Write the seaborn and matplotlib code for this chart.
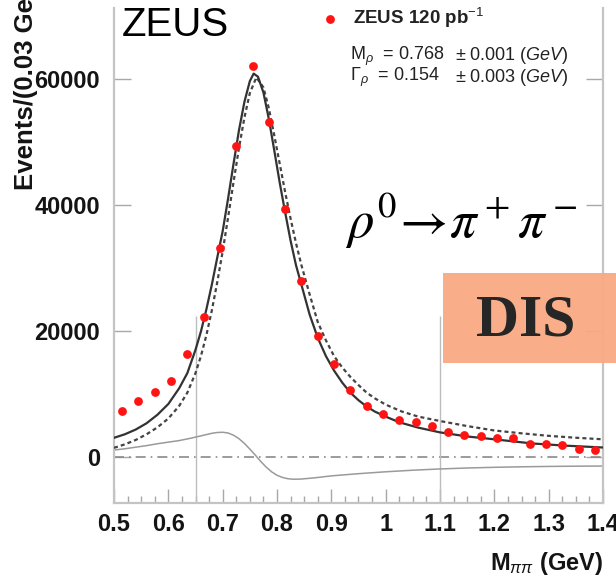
import matplotlib
matplotlib.use("Agg")
import matplotlib.pyplot as plt
import matplotlib.patches as mpatches
from matplotlib.ticker import MultipleLocator
import pandas as pd
import seaborn as sns

# ZEUS data points (bin centres, events per 0.03 GeV)
mass_bins = [0.515, 0.545, 0.575, 0.605, 0.635, 0.665, 0.695, 0.725, 0.755, 0.785,
             0.815, 0.845, 0.875, 0.905, 0.935, 0.965, 0.995, 1.025, 1.055, 1.085,
             1.115, 1.145, 1.175, 1.205, 1.235, 1.265, 1.295, 1.325, 1.355, 1.385]
events = [7250, 8940, 10250, 12100, 16370, 22270, 33140, 49390, 61930, 53080,
          39270, 27880, 19110, 14740, 10680, 8150, 6830, 5930, 5570, 4980,
          4030, 3510, 3400, 3040, 2970, 2090, 2090, 1820, 1300, 1080]

# full fit (solid)
fit_x = [0.50, 0.52, 0.54, 0.56, 0.58, 0.60, 0.62, 0.635, 0.65, 0.66, 0.67, 0.68,
         0.69, 0.70, 0.71, 0.72, 0.73, 0.74, 0.75, 0.757, 0.765, 0.775, 0.785, 0.795,
         0.805, 0.815, 0.825, 0.835, 0.845, 0.86, 0.875, 0.89, 0.905, 0.92, 0.935, 0.95,
         0.965, 0.98, 1.00, 1.025, 1.06, 1.10, 1.15, 1.20, 1.27, 1.33, 1.40]
fit_y = [3040, 3600, 4350, 5350, 6700, 8400, 10900, 13300, 17000, 19900, 23400, 27300,
         31600, 35800, 41000, 46500, 51800, 56300, 59600, 60800, 60300, 57800, 53600, 48600,
         43500, 38800, 34300, 30400, 27300, 22600, 18900, 16000, 13700, 11800, 10200, 9000,
         8000, 7200, 6400, 5500, 4650, 3900, 3250, 2800, 2140, 1800, 1500]

# pure Breit-Wigner (dotted)
bw_x = [0.50, 0.52, 0.54, 0.56, 0.58, 0.60, 0.62, 0.635, 0.65, 0.66, 0.67, 0.68,
        0.69, 0.70, 0.71, 0.72, 0.73, 0.74, 0.75, 0.762, 0.775, 0.785, 0.795, 0.805,
        0.815, 0.825, 0.835, 0.845, 0.86, 0.875, 0.89, 0.905, 0.92, 0.935, 0.95, 0.965,
        0.98, 1.00, 1.03, 1.06, 1.10, 1.15, 1.20, 1.25, 1.30, 1.35, 1.40]
bw_y = [1450, 2000, 2700, 3600, 4700, 6100, 8100, 10200, 13300, 16000, 19300, 23200,
        27700, 32600, 38000, 43600, 49000, 53800, 57700, 60200, 58600, 55300, 51000, 46500,
        42000, 37800, 33900, 30400, 25800, 21400, 18500, 16000, 14200, 12700, 11400, 10200,
        9300, 8300, 7200, 6400, 5700, 4900, 4200, 3750, 3350, 3050, 2800]

# interference term (grey)
int_x = [0.50, 0.52, 0.54, 0.56, 0.58, 0.60, 0.62, 0.64, 0.66, 0.68, 0.69, 0.70,
         0.71, 0.72, 0.73, 0.74, 0.75, 0.76, 0.77, 0.78, 0.79, 0.80, 0.81, 0.82,
         0.83, 0.845, 0.87, 0.90, 0.95, 1.00, 1.05, 1.10, 1.15, 1.20, 1.25, 1.30,
         1.35, 1.40]
int_y = [1100, 1300, 1550, 1800, 2100, 2350, 2600, 2950, 3350, 3750, 3880, 3920,
         3800, 3450, 2900, 2150, 1250, 300, -700, -1600, -2350, -2900, -3250, -3450,
         -3530, -3500, -3300, -3000, -2650, -2350, -2100, -1900, -1750, -1640, -1560, -1500,
         -1460, -1440]

cut_edges = [0.65, 1.1]
cut_top = 22300

xticks = [0.5, 0.6, 0.7, 0.8, 0.9, 1.0, 1.1, 1.2, 1.3, 1.4]
xtick_labels = ["0.5", "0.6", "0.7", "0.8", "0.9", "1", "1.1", "1.2", "1.3", "1.4"]
yticks = [0, 20000, 40000, 60000]

sns.set_style("ticks")
plt.rcParams["font.family"] = ["Liberation Sans", "DejaVu Sans"]
plt.rcParams["font.sans-serif"] = ["Liberation Sans", "DejaVu Sans"]
plt.rcParams["mathtext.fontset"] = "custom"
plt.rcParams["mathtext.rm"] = "sans"
plt.rcParams["mathtext.it"] = "sans:italic"
plt.rcParams["mathtext.bf"] = "sans:bold"

fig = plt.figure(figsize=(6.16, 5.8), dpi=100)
ax = fig.add_axes([114 / 616, 1 - 503 / 580, (603 - 114) / 616, (503 - 8) / 580])

data = pd.DataFrame({"mass": mass_bins, "events": events})
fit = pd.DataFrame({"mass": fit_x, "events": fit_y})
bw = pd.DataFrame({"mass": bw_x, "events": bw_y})
interf = pd.DataFrame({"mass": int_x, "events": int_y})

ax.axhline(0, color="#8a8a8a", lw=1.2, ls=(0, (6, 3, 1, 3)), zorder=1)
ax.vlines(cut_edges, -7300, cut_top, color="#bdbdbd", lw=1.0, zorder=1)

sns.lineplot(data=interf, x="mass", y="events", ax=ax, color="#9a9a9a", lw=1.1,
             estimator=None, zorder=2)
sns.lineplot(data=bw, x="mass", y="events", ax=ax, color="#444444", lw=1.6,
             ls=(0, (1.8, 1.4)), estimator=None, zorder=3)
sns.lineplot(data=fit, x="mass", y="events", ax=ax, color="#333333", lw=1.6,
             estimator=None, zorder=4)
sns.scatterplot(data=data, x="mass", y="events", ax=ax, color="#ff1414", s=40,
                linewidth=0, zorder=5, label=r"ZEUS 120 pb$^{-1}$")

ax.set_xlim(0.5, 1.4)
ax.set_ylim(-7300, 71200)
ax.set_xticks(xticks)
ax.set_xticklabels(xtick_labels)
ax.set_yticks(yticks)
ax.set_yticklabels([str(v) for v in yticks])
ax.xaxis.set_minor_locator(MultipleLocator(0.025))

for side in ["left", "bottom", "right"]:
    ax.spines[side].set_color("#c4c4c4")
    ax.spines[side].set_linewidth(1.6)
ax.spines["top"].set_visible(False)

ax.tick_params(axis="both", which="both", direction="in", color="#a8a8a8",
               labelcolor="#141414")
ax.tick_params(axis="x", which="major", length=10, width=1.0, pad=7)
ax.tick_params(axis="x", which="minor", length=5, width=1.0)
ax.tick_params(axis="y", which="major", length=12, width=1.0, pad=10, right=True)
ax.tick_params(axis="y", which="minor", left=False)
for lab in ax.get_xticklabels() + ax.get_yticklabels():
    lab.set_fontsize(17)
    lab.set_fontweight("bold")

ax.set_ylabel("Events/(0.03 GeV)", loc="top", fontsize=18.5, fontweight="bold",
              color="#141414")
ax.yaxis.set_label_coords(-0.155, 1.072)
ax.set_xlabel(r"M$_{\pi\pi}$ (GeV)", loc="right", fontsize=17, fontweight="bold",
              color="#141414")
ax.xaxis.set_label_coords(1.0, -0.095)

leg = ax.legend(loc="upper left", bbox_to_anchor=(321 / 616, 1 - 6 / 580),
                bbox_transform=fig.transFigure, frameon=False, handlelength=1.0,
                handletextpad=0.7, borderpad=0, borderaxespad=0,
                prop={"weight": "bold", "size": 13.5})
for t in leg.get_texts():
    t.set_color("#222222")

fig.text(350 / 616, 1 - 56 / 580, r"M$_\rho$  = 0.768", fontsize=13,
         va="center", color="#222222")
fig.text(455 / 616, 1 - 56 / 580, r"± 0.001 ($\mathit{GeV}$)", fontsize=13,
         va="center", color="#222222")
fig.text(350 / 616, 1 - 77 / 580, r"$\Gamma_\rho$  = 0.154", fontsize=13,
         va="center", color="#222222")
fig.text(455 / 616, 1 - 77 / 580, r"± 0.003 ($\mathit{GeV}$)", fontsize=13,
         va="center", color="#222222")

fig.text(122 / 616, 1 - 6 / 580, "ZEUS", fontsize=29, va="top", color="#000000")

fig.text(345 / 616, 1 - 238 / 580, r"$\rho^0\!\rightarrow\!\pi^+\pi^-$",
         fontsize=38, math_fontfamily="stix", va="baseline", color="#000000")

box = mpatches.Rectangle((443 / 616, 1 - 363 / 580), (620 - 443) / 616, 90 / 580,
                         transform=fig.transFigure, facecolor="#f9a982",
                         edgecolor="none", alpha=0.95, zorder=5)
fig.patches.append(box)
fig.text(526 / 616, 1 - 322 / 580, "DIS", fontsize=43, family="Liberation Serif",
         fontweight="bold", ha="center", va="center", zorder=6)

fig.savefig("out.png", dpi=100)
